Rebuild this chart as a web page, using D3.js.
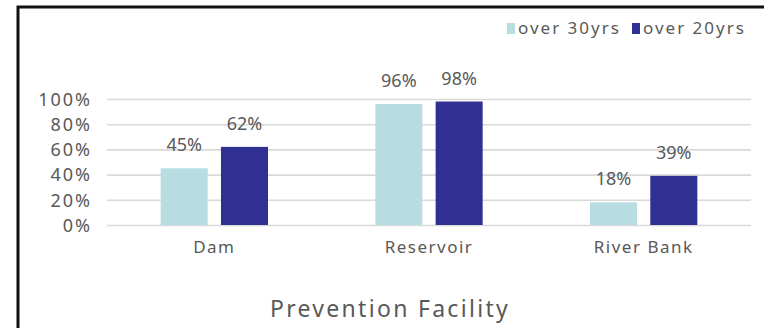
<!DOCTYPE html>
<html>
<head>
<meta charset="utf-8">
<script src="https://cdn.jsdelivr.net/npm/d3@7"></script>
<style>
  html, body { margin: 0; padding: 0; background: #fff; }
  svg { display: block; }
  text { font-family: "Noto Sans", "DejaVu Sans", sans-serif; fill: #595959; }
</style>
</head>
<body>
<svg id="chart" width="764" height="328"></svg>
<script>
// Share of prevention facilities by age group
const categories = ["Dam", "Reservoir", "River Bank"];
const seriesNames = ["over 30yrs", "over 20yrs"];
const over30 = [45, 96, 18];
const over20 = [62, 98, 39];
const yTicks = [0, 20, 40, 60, 80, 100];
const axisTitle = "Prevention Facility";
const colors = ["#b7dde2", "#2f3092"];

const svg = d3.select("#chart");
const plot = { left: 107, right: 751, top: 99, bottom: 225 };

const x = d3.scaleBand().domain(categories).range([plot.left, plot.right]).paddingInner(0.5).paddingOuter(0.25);
const xi = d3.scaleBand().domain(seriesNames).range([0, x.bandwidth()]).paddingInner(0.22);
const y = d3.scaleLinear().domain([0, 100]).range([plot.bottom, plot.top]);

// frame (left and top edges)
svg.append("path")
  .attr("d", `M18,330 L18,7 L766,7`)
  .attr("fill", "none").attr("stroke", "#111").attr("stroke-width", 3);

// gridlines + y labels
const yAxis = d3.axisLeft(y).tickValues(yTicks).tickFormat(d => d + "%")
  .tickSize(-(plot.right - plot.left)).tickPadding(15);
const gy = svg.append("g").attr("transform", `translate(${plot.left},0)`).call(yAxis);
gy.select(".domain").remove();
gy.selectAll(".tick line").attr("stroke", "#d9d9d9").attr("stroke-width", 1.6);
gy.selectAll(".tick text").style("font-size", "18px").style("letter-spacing", "2px")
  .attr("fill", "#595959").attr("dy", "0.35em");

// bars
const rows = categories.map((c, i) => ({ cat: c, vals: [over30[i], over20[i]] }));
const groups = svg.selectAll("g.grp").data(rows).join("g")
  .attr("class", "grp").attr("transform", d => `translate(${x(d.cat)},0)`);
groups.selectAll("rect").data(d => d.vals.map((v, j) => ({ v, s: seriesNames[j], j })))
  .join("rect")
  .attr("x", d => xi(d.s)).attr("width", xi.bandwidth())
  .attr("y", d => y(d.v)).attr("height", d => y(0) - y(d.v))
  .attr("fill", d => colors[d.j]);
groups.selectAll("text.val").data(d => d.vals.map((v, j) => ({ v, s: seriesNames[j], j })))
  .join("text").attr("class", "val")
  .attr("x", d => xi(d.s) + xi.bandwidth() / 2)
  .attr("y", d => y(d.v) - 17)
  .attr("text-anchor", "middle").style("font-size", "18px")
  .text(d => d.v + "%");

// category axis
const gx = svg.append("g").attr("transform", `translate(0,${plot.bottom})`)
  .call(d3.axisBottom(x).tickSize(0).tickPadding(16));
gx.select(".domain").remove();
gx.selectAll(".tick text").style("font-size", "17px").style("letter-spacing", "1.5px").attr("fill", "#595959");

// axis title
svg.append("text").attr("x", 390).attr("y", 317).attr("text-anchor", "middle")
  .style("font-size", "23px").style("letter-spacing", "2.3px").text(axisTitle);

// legend
const legendX = [507, 632];
const lg = svg.selectAll("g.leg").data(seriesNames).join("g").attr("class", "leg")
  .attr("transform", (d, i) => `translate(${legendX[i]},0)`);
lg.append("rect").attr("x", 0).attr("y", 23).attr("width", 8).attr("height", 11)
  .attr("fill", (d, i) => colors[i]);
lg.append("text").attr("x", 11).attr("y", 34).style("font-size", "17px")
  .style("letter-spacing", "2px").text(d => d);
</script>
</body>
</html>
